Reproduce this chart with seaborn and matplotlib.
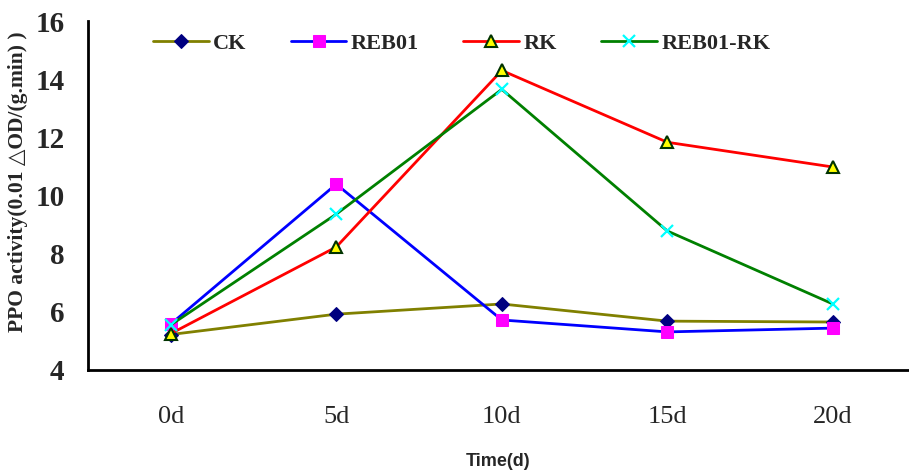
import numpy as np
import pandas as pd
import matplotlib
matplotlib.use('Agg')
import matplotlib.pyplot as plt
import seaborn as sns

sns.set_style('white')
plt.rcParams['font.family'] = ['Liberation Serif', 'DejaVu Serif']
plt.rcParams['axes.unicode_minus'] = False

# 데이터
days = ['0d', '5d', '10d', '15d', '20d']
ck = [5.22, 5.92, 6.27, 5.68, 5.65]
reb01 = [5.58, 10.39, 5.72, 5.31, 5.44]
rk = [5.25, 8.23, 14.3, 11.83, 10.98]
reb01_rk = [5.55, 9.36, 13.65, 8.78, 6.27]

df = pd.DataFrame({'time': days, 'CK': ck, 'REB01': reb01,
                   'RK': rk, 'REB01-RK': reb01_rk})
long = df.melt(id_vars='time', var_name='group', value_name='ppo')

styles = {
    'CK': dict(color='#808000', marker='D', markersize=7.5,
               markerfacecolor='#000080', markeredgecolor='#000080'),
    'REB01': dict(color='#0000ff', marker='s', markersize=8,
                  markerfacecolor='#ff00ff', markeredgecolor='#ff00ff'),
    'RK': dict(color='#ff0000', marker='^', markersize=9,
               markerfacecolor='#ffff00', markeredgecolor='#003300',
               markeredgewidth=1.5),
    'REB01-RK': dict(color='#008000', marker='x', markersize=9,
                     markeredgecolor='#00ffff', markeredgewidth=1.6),
}

fig = plt.figure(figsize=(9.09, 4.70), dpi=100)
ax = fig.add_axes([88 / 909, 100 / 470, 821 / 909, 349 / 470])

for name, kw in styles.items():
    sub = long[long['group'] == name]
    sns.lineplot(data=sub, x='time', y='ppo', ax=ax, label=name,
                 linewidth=2, **kw)

ax.set_xlim(-0.5, 4.46)
ax.set_ylim(4, 16)
ax.set_yticks(range(4, 17, 2))
ax.set_xticks(range(5))
ax.set_xticklabels(days)
ax.set_xticks(np.arange(-0.5, 4.5, 1), minor=True)

for side in ['top', 'right']:
    ax.spines[side].set_visible(False)
for side in ['left', 'bottom']:
    ax.spines[side].set_linewidth(2)
    ax.spines[side].set_color('black')

ax.tick_params(axis='both', which='both', direction='in', length=8,
               width=2, color='black')
ax.tick_params(axis='x', which='major', pad=26)
ax.tick_params(axis='y', pad=17)
for t in ax.get_yticklabels():
    t.set_fontsize(21)
    t.set_fontweight('bold')
for t in ax.get_xticklabels():
    t.set_fontsize(19)

ax.set_xlabel('Time(d)', fontsize=13, family='Liberation Sans',
              fontweight='bold', labelpad=18)
ax.set_ylabel('PPO activity(0.01 △OD/(g.min) )', fontsize=15.5,
              fontweight='bold', labelpad=5)
ax.yaxis.set_label_coords(-0.073, 0.54)

ax.legend(loc='center', bbox_to_anchor=(0.455, 0.935), ncol=4, frameon=False,
          prop={'size': 16, 'weight': 'bold'}, handlelength=2.5,
          handletextpad=0.2, columnspacing=2.0)

fig.savefig('out.png', dpi=100)
